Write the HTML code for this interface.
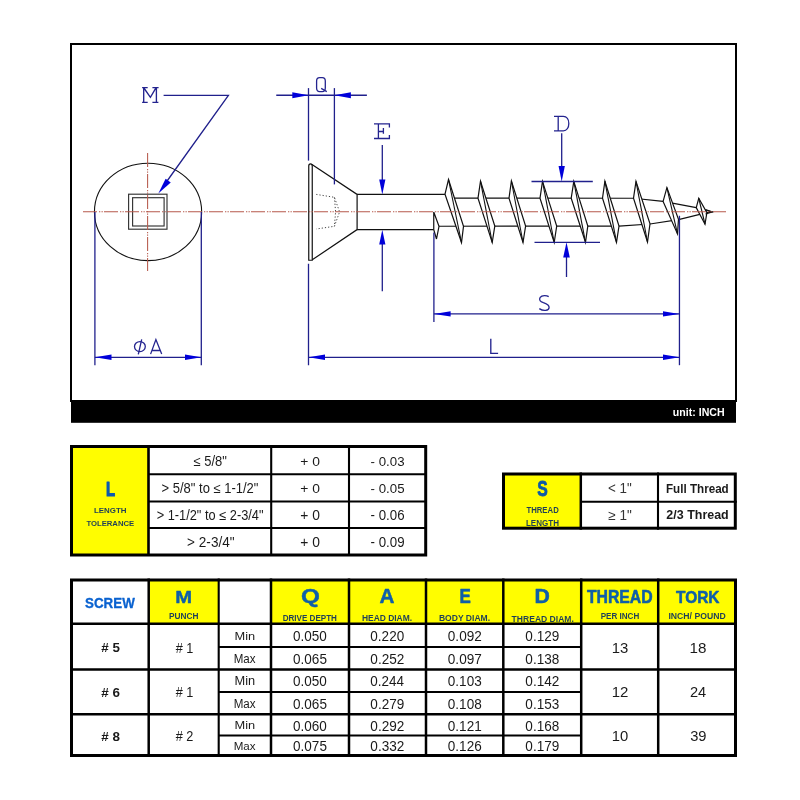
<!DOCTYPE html><html><head><meta charset="utf-8"><style>html,body{margin:0;padding:0;background:#fff;}svg{display:block}</style></head><body>
<svg width="800" height="800" viewBox="0 0 800 800" style="will-change:transform">
<rect width="800" height="800" fill="#fff"/>
<rect x="71" y="44" width="665" height="357" fill="none" stroke="#000" stroke-width="2"/>
<rect x="71" y="400.5" width="665" height="22.3" fill="#000"/>
<text transform="translate(672.84,416.20) scale(0.9602,1)" font-family="Liberation Sans" font-weight="bold" font-size="11.05" fill="#fff">unit: INCH</text>
<ellipse cx="148.05" cy="211.9" rx="53.6" ry="48.7" fill="none" stroke="#111" stroke-width="1.1"/>
<rect x="128.6" y="194.2" width="38.4" height="35" fill="none" stroke="#333" stroke-width="1.15"/>
<rect x="132.6" y="197.7" width="31.5" height="28.3" fill="none" stroke="#333" stroke-width="1.15"/>
<path d="M308.75,260.25 V166 C308.75,163.2 312.25,163.2 312.25,166 V260.25 Z" fill="none" stroke="#111" stroke-width="1.2"/>
<polyline points="311.6,164.3 357.1,194.4 357.1,229.6 312.25,259.8" fill="none" stroke="#111" stroke-width="1.2"/>
<polyline points="316.25,194.4 334.4,197.3 339.6,211.9 334.4,226.3 316.25,229" fill="none" stroke="#444" stroke-width="1" stroke-dasharray="1.2 2"/>
<polyline points="334.4,197.3 335.6,211.9 334.4,226.3" fill="none" stroke="#444" stroke-width="1" stroke-dasharray="1.2 2"/>
<line x1="357.1" y1="194.4" x2="445" y2="194.4" stroke="#111" stroke-width="1.2" />
<line x1="357.1" y1="229.6" x2="433.75" y2="229.6" stroke="#111" stroke-width="1.2" />
<polyline points="446,198.2 633.5,198.25 663.1,201.4 696.25,207.6 712.5,212" fill="none" stroke="#111" stroke-width="1.2"/>
<polyline points="439,226.25 619,226.1 650,224 678.5,219.6 706.9,212.6 712.5,212" fill="none" stroke="#111" stroke-width="1.2"/>
<polygon points="433.75,212 439,226.25 436.5,239 433.75,229.6" fill="#fff" stroke="#111" stroke-width="1.2" stroke-linejoin="miter"/>
<polygon points="448.5,179.5 463.5,226.3 461.5,242.5 445,194.2" fill="#fff" stroke="#111" stroke-width="1.2" stroke-linejoin="miter" stroke-miterlimit="10"/>
<line x1="448.5" y1="179.5" x2="461.5" y2="242.5" stroke="#111" stroke-width="1.1"/>
<polygon points="480.5,181.2 494.8,226 492.2,242.5 478,198.2" fill="#fff" stroke="#111" stroke-width="1.2" stroke-linejoin="miter" stroke-miterlimit="10"/>
<line x1="480.5" y1="181.2" x2="492.2" y2="242.5" stroke="#111" stroke-width="1.1"/>
<polygon points="511.4,181.0 525.6,226 523,242.5 509,198.2" fill="#fff" stroke="#111" stroke-width="1.2" stroke-linejoin="miter" stroke-miterlimit="10"/>
<line x1="511.4" y1="181.0" x2="523" y2="242.5" stroke="#111" stroke-width="1.1"/>
<polygon points="542.5,181.4 556.7,226 554.2,242.5 540,198.2" fill="#fff" stroke="#111" stroke-width="1.2" stroke-linejoin="miter" stroke-miterlimit="10"/>
<line x1="542.5" y1="181.4" x2="554.2" y2="242.5" stroke="#111" stroke-width="1.1"/>
<polygon points="573.8,181.4 587.8,226 585.5,242.3 571.2,198.2" fill="#fff" stroke="#111" stroke-width="1.2" stroke-linejoin="miter" stroke-miterlimit="10"/>
<line x1="573.8" y1="181.4" x2="585.5" y2="242.3" stroke="#111" stroke-width="1.1"/>
<polygon points="604.9,181.2 619,226 616.5,242.4 602.5,198.2" fill="#fff" stroke="#111" stroke-width="1.2" stroke-linejoin="miter" stroke-miterlimit="10"/>
<line x1="604.9" y1="181.2" x2="616.5" y2="242.4" stroke="#111" stroke-width="1.1"/>
<polygon points="636,181.4 650,223.9 647.5,242 633.5,198.25" fill="#fff" stroke="#111" stroke-width="1.2" stroke-linejoin="miter" stroke-miterlimit="10"/>
<line x1="636" y1="181.4" x2="647.5" y2="242" stroke="#111" stroke-width="1.1"/>
<polygon points="666.9,187.6 678.5,219.25 677.5,233.9 663.1,201.4" fill="#fff" stroke="#111" stroke-width="1.2" stroke-linejoin="miter" stroke-miterlimit="10"/>
<line x1="666.9" y1="187.6" x2="677.5" y2="233.9" stroke="#111" stroke-width="1.1"/>
<polygon points="698.75,198.25 706.9,212.6 705,224.25 696.25,207.6" fill="#fff" stroke="#111" stroke-width="1.2" stroke-linejoin="miter" stroke-miterlimit="10"/>
<line x1="698.75" y1="198.25" x2="705" y2="224.25" stroke="#111" stroke-width="1.1"/>
<polyline points="705.5,209.5 712.5,212 705.5,214" fill="none" stroke="#111" stroke-width="1.1"/>
<line x1="83" y1="211.8" x2="726" y2="211.8" stroke="#b65a4c" stroke-width="1.05" stroke-dasharray="14 2 1.3 1.2 1.3 1.2"/>
<line x1="147.6" y1="153" x2="147.6" y2="271" stroke="#b65a4c" stroke-width="1.05" stroke-dasharray="14 2 1.3 1.2 1.3 1.2"/>
<polyline points="163.6,95.3 228.4,95.3 163.5,186" fill="none" stroke="#20208c" stroke-width="1.3"/>
<polygon points="158.30,193.60 165.65,178.66 170.75,182.54" fill="#0000da"/>
<path d="M142.1,87.6 H147.7 M152.4,87.6 H158.6 M143.7,87.6 V102.3 M156.4,87.6 V102.3 M142.1,102.3 H147.7 M152.4,102.3 H158.4 M143.9,88 L150.4,97.3 L155.8,88.2" fill="none" stroke="#24248f" stroke-width="1.35"/>
<line x1="276.25" y1="95.25" x2="366.9" y2="95.25" stroke="#20208c" stroke-width="1.3" />
<line x1="308.5" y1="88.1" x2="308.5" y2="160.6" stroke="#20208c" stroke-width="1.3" />
<line x1="334.4" y1="88.1" x2="334.4" y2="184.4" stroke="#20208c" stroke-width="1.3" />
<polygon points="308.50,95.25 292.30,98.15 292.30,92.35" fill="#0000da"/>
<polygon points="334.40,95.25 350.90,92.35 350.90,98.15" fill="#0000da"/>
<rect x="316.6" y="77.6" width="8.7" height="14" rx="3" ry="3.5" fill="none" stroke="#24248f" stroke-width="1.3"/>
<path d="M321.2,88.4 L326.8,91.6" stroke="#24248f" stroke-width="1.3"/>
<line x1="382.3" y1="145" x2="382.3" y2="180" stroke="#20208c" stroke-width="1.3" />
<polygon points="382.30,194.40 379.20,179.40 385.40,179.40" fill="#0000da"/>
<line x1="382.3" y1="244" x2="382.3" y2="291.25" stroke="#20208c" stroke-width="1.3" />
<polygon points="382.30,229.80 385.40,244.60 379.20,244.60" fill="#0000da"/>
<path d="M374,123.9 H389.4 V127.6 M378.4,123.9 V138.5 M374,138.5 H389.4 V135.1 M378.4,131.5 H383.4 M383.4,128.1 V133.7" fill="none" stroke="#24248f" stroke-width="1.3"/>
<line x1="561.7" y1="133.3" x2="561.7" y2="167" stroke="#20208c" stroke-width="1.3" />
<polygon points="561.70,181.50 558.55,166.00 564.85,166.00" fill="#0000da"/>
<line x1="531.5" y1="181.5" x2="592.8" y2="181.5" stroke="#20208c" stroke-width="1.3" />
<line x1="534.5" y1="242.3" x2="600" y2="242.3" stroke="#20208c" stroke-width="1.3" />
<line x1="566.5" y1="257" x2="566.5" y2="277" stroke="#20208c" stroke-width="1.3" />
<polygon points="566.50,242.30 569.80,257.50 563.20,257.50" fill="#0000da"/>
<path d="M554,116.4 H563.3 C566.8,116.4 568.8,119.5 568.8,123.6 C568.8,127.7 566.8,130.8 563.3,130.8 H554 M558.2,116.4 V130.8" fill="none" stroke="#24248f" stroke-width="1.3"/>
<line x1="433.9" y1="232.5" x2="433.9" y2="321.9" stroke="#20208c" stroke-width="1.3" />
<line x1="679.45" y1="215.75" x2="679.45" y2="365.2" stroke="#20208c" stroke-width="1.3" />
<line x1="433.9" y1="313.9" x2="679.45" y2="313.9" stroke="#20208c" stroke-width="1.3" />
<polygon points="433.90,313.90 450.60,311.20 450.60,316.60" fill="#0000da"/>
<polygon points="679.45,313.90 663.00,316.60 663.00,311.20" fill="#0000da"/>
<path d="M548.7,296.6 C546.8,295.3 542,294.8 540.2,297.4 C538.6,300 540.3,301.4 543.4,302.7 C547.4,304.2 549.4,305.2 549.1,307.6 C548.8,310.6 543.6,311.6 539.3,308.6" fill="none" stroke="#24248f" stroke-width="1.3"/>
<line x1="308.5" y1="263.75" x2="308.5" y2="365.25" stroke="#20208c" stroke-width="1.3" />
<line x1="308.5" y1="357.3" x2="679.45" y2="357.3" stroke="#20208c" stroke-width="1.3" />
<polygon points="308.50,357.30 325.00,354.60 325.00,360.00" fill="#0000da"/>
<polygon points="679.45,357.30 663.00,360.00 663.00,354.60" fill="#0000da"/>
<path d="M490.8,338.8 V353.4 H498.1" fill="none" stroke="#24248f" stroke-width="1.35"/>
<line x1="94.9" y1="212" x2="94.9" y2="365.2" stroke="#20208c" stroke-width="1.3" />
<line x1="201.3" y1="212" x2="201.3" y2="365.2" stroke="#20208c" stroke-width="1.3" />
<line x1="94.9" y1="357.3" x2="201.3" y2="357.3" stroke="#20208c" stroke-width="1.3" />
<polygon points="94.90,357.30 111.50,354.60 111.50,360.00" fill="#0000da"/>
<polygon points="201.30,357.30 185.00,360.00 185.00,354.60" fill="#0000da"/>
<ellipse cx="139.9" cy="346.6" rx="5.4" ry="5" fill="none" stroke="#24248f" stroke-width="1.3"/>
<line x1="141.7" y1="339.3" x2="138.3" y2="354.4" stroke="#24248f" stroke-width="1.3" />
<path d="M150.6,354.1 L155.9,339.6 L161.7,354.1 M152.2,350.5 H160.1" fill="none" stroke="#24248f" stroke-width="1.3"/>
<rect x="71.5" y="446.5" width="77" height="108.5" fill="#fffd00"/>
<rect x="71.5" y="446.5" width="354.2" height="108.5" fill="none" stroke="#000" stroke-width="3"/>
<line x1="148.5" y1="445" x2="148.5" y2="556" stroke="#000" stroke-width="2.6" />
<line x1="271.2" y1="445" x2="271.2" y2="556" stroke="#000" stroke-width="2.1" />
<line x1="349" y1="445" x2="349" y2="556" stroke="#000" stroke-width="2.1" />
<line x1="148.5" y1="474.25" x2="427" y2="474.25" stroke="#000" stroke-width="2.1" />
<line x1="148.5" y1="501.5" x2="427" y2="501.5" stroke="#000" stroke-width="2.1" />
<line x1="148.5" y1="528" x2="427" y2="528" stroke="#000" stroke-width="2.1" />
<text transform="translate(105.95,495.55) scale(0.7231,1)" font-family="Liberation Sans" font-weight="bold" font-size="20.51" fill="#0c5ab0" stroke="#0c5ab0" stroke-width="1.24" stroke-linejoin="round">L</text>
<text transform="translate(93.97,512.63) scale(1.0775,1)" font-family="Liberation Sans" font-weight="bold" font-size="7.35" fill="#1f3f58">LENGTH</text>
<text transform="translate(86.42,525.92) scale(1.0111,1)" font-family="Liberation Sans" font-weight="bold" font-size="7.63" fill="#1f3f58">TOLERANCE</text>
<text transform="translate(193.51,466.16) scale(0.9445,1)" font-family="Liberation Sans" font-weight="normal" font-size="13.76" fill="#1a1a1a">≤ 5/8&quot;</text>
<text transform="translate(300.34,466.16) scale(1.0232,1)" font-family="Liberation Sans" font-weight="normal" font-size="13.57" fill="#1a1a1a">+ 0</text>
<text transform="translate(370.60,466.16) scale(0.9797,1)" font-family="Liberation Sans" font-weight="normal" font-size="13.57" fill="#1a1a1a">- 0.03</text>
<text transform="translate(161.55,493.06) scale(0.9451,1)" font-family="Liberation Sans" font-weight="normal" font-size="13.76" fill="#1a1a1a">&gt; 5/8&quot; to ≤ 1-1/2&quot;</text>
<text transform="translate(300.34,493.06) scale(1.0232,1)" font-family="Liberation Sans" font-weight="normal" font-size="13.57" fill="#1a1a1a">+ 0</text>
<text transform="translate(370.60,493.06) scale(0.9787,1)" font-family="Liberation Sans" font-weight="normal" font-size="13.57" fill="#1a1a1a">- 0.05</text>
<text transform="translate(156.66,520.16) scale(0.9207,1)" font-family="Liberation Sans" font-weight="normal" font-size="13.91" fill="#1a1a1a">&gt; 1-1/2&quot; to ≤ 2-3/4&quot;</text>
<text transform="translate(300.34,520.16) scale(1.0126,1)" font-family="Liberation Sans" font-weight="normal" font-size="13.71" fill="#1a1a1a">+ 0</text>
<text transform="translate(370.60,520.16) scale(0.9696,1)" font-family="Liberation Sans" font-weight="normal" font-size="13.71" fill="#1a1a1a">- 0.06</text>
<text transform="translate(187.12,547.26) scale(0.9471,1)" font-family="Liberation Sans" font-weight="normal" font-size="14.34" fill="#1a1a1a">&gt; 2-3/4&quot;</text>
<text transform="translate(300.34,547.26) scale(0.9823,1)" font-family="Liberation Sans" font-weight="normal" font-size="14.13" fill="#1a1a1a">+ 0</text>
<text transform="translate(370.60,547.26) scale(0.9414,1)" font-family="Liberation Sans" font-weight="normal" font-size="14.13" fill="#1a1a1a">- 0.09</text>
<rect x="503.5" y="474" width="77" height="54" fill="#fffd00"/>
<rect x="503.5" y="474" width="231.8" height="54.2" fill="none" stroke="#000" stroke-width="3"/>
<line x1="580.8" y1="472.5" x2="580.8" y2="529.7" stroke="#000" stroke-width="2.5" />
<line x1="658" y1="472.5" x2="658" y2="529.7" stroke="#000" stroke-width="2.1" />
<line x1="580.8" y1="501.8" x2="736.8" y2="501.8" stroke="#000" stroke-width="2.1" />
<text transform="translate(537.33,495.89) scale(0.7420,1)" font-family="Liberation Sans" font-weight="bold" font-size="21.20" fill="#0c5aa8" stroke="#0c5aa8" stroke-width="0.81" stroke-linejoin="round">S</text>
<text transform="translate(526.42,513.10) scale(0.8764,1)" font-family="Liberation Sans" font-weight="bold" font-size="8.87" fill="#1f3f58">THREAD</text>
<text transform="translate(525.96,526.11) scale(0.9181,1)" font-family="Liberation Sans" font-weight="bold" font-size="8.76" fill="#1f3f58">LENGTH</text>
<text transform="translate(608.08,493.00) scale(0.9692,1)" font-family="Liberation Sans" font-weight="normal" font-size="13.82" fill="#333">&lt; 1&quot;</text>
<text transform="translate(608.31,520.00) scale(0.9794,1)" font-family="Liberation Sans" font-weight="normal" font-size="13.82" fill="#333">≥ 1&quot;</text>
<text transform="translate(666.01,492.60) scale(0.9532,1)" font-family="Liberation Sans" font-weight="bold" font-size="12.22" fill="#1a1a1a">Full Thread</text>
<text transform="translate(666.36,518.70) scale(1.0340,1)" font-family="Liberation Sans" font-weight="bold" font-size="12.07" fill="#1a1a1a">2/3 Thread</text>
<rect x="148.7" y="580" width="70" height="43.7" fill="#fffd00"/>
<rect x="271" y="580" width="387.2" height="43.7" fill="#fffd00"/>
<rect x="658.2" y="580" width="77.3" height="43.7" fill="#fffd00"/>
<rect x="71.5" y="580" width="664" height="175.5" fill="none" stroke="#000" stroke-width="3"/>
<line x1="148.7" y1="578.5" x2="148.7" y2="757" stroke="#000" stroke-width="2.5" />
<line x1="218.7" y1="578.5" x2="218.7" y2="757" stroke="#000" stroke-width="2.1" />
<line x1="271" y1="578.5" x2="271" y2="757" stroke="#000" stroke-width="2.5" />
<line x1="349" y1="578.5" x2="349" y2="757" stroke="#000" stroke-width="2.5" />
<line x1="426" y1="578.5" x2="426" y2="757" stroke="#000" stroke-width="2.5" />
<line x1="503.3" y1="578.5" x2="503.3" y2="757" stroke="#000" stroke-width="2.5" />
<line x1="581.2" y1="578.5" x2="581.2" y2="757" stroke="#000" stroke-width="2.5" />
<line x1="658.2" y1="578.5" x2="658.2" y2="757" stroke="#000" stroke-width="2.5" />
<line x1="70" y1="623.8" x2="737" y2="623.8" stroke="#000" stroke-width="2.6" />
<line x1="70" y1="669.5" x2="737" y2="669.5" stroke="#000" stroke-width="2.6" />
<line x1="70" y1="714.2" x2="737" y2="714.2" stroke="#000" stroke-width="2.6" />
<line x1="218.7" y1="647" x2="581.2" y2="647" stroke="#000" stroke-width="2.1" />
<line x1="218.7" y1="692" x2="581.2" y2="692" stroke="#000" stroke-width="2.1" />
<line x1="218.7" y1="735.5" x2="581.2" y2="735.5" stroke="#000" stroke-width="2.1" />
<text transform="translate(85.05,608.31) scale(0.9359,1)" font-family="Liberation Sans" font-weight="bold" font-size="14.28" fill="#0a62d0" stroke="#0a62d0" stroke-width="0.32" stroke-linejoin="round">SCREW</text>
<text transform="translate(175.29,602.75) scale(1.2042,1)" font-family="Liberation Sans" font-weight="bold" font-size="16.73" fill="#0f5fa8" stroke="#0f5fa8" stroke-width="0.42" stroke-linejoin="round">M</text>
<text transform="translate(169.04,618.71) scale(0.9476,1)" font-family="Liberation Sans" font-weight="bold" font-size="8.76" fill="#1f3f58">PUNCH</text>
<text transform="translate(301.08,603.15) scale(1.1947,1)" font-family="Liberation Sans" font-weight="bold" font-size="20.35" fill="#0f5fa8" stroke="#0f5fa8" stroke-width="0.42" stroke-linejoin="round">Q</text>
<text transform="translate(282.65,621.40) scale(0.8830,1)" font-family="Liberation Sans" font-weight="bold" font-size="9.16" fill="#1f3f58">DRIVE DEPTH</text>
<text transform="translate(379.53,603.35) scale(1.0644,1)" font-family="Liberation Sans" font-weight="bold" font-size="19.49" fill="#0f5fa8" stroke="#0f5fa8" stroke-width="0.47" stroke-linejoin="round">A</text>
<text transform="translate(361.93,621.40) scale(0.9222,1)" font-family="Liberation Sans" font-weight="bold" font-size="9.16" fill="#1f3f58">HEAD DIAM.</text>
<text transform="translate(459.40,603.35) scale(0.8451,1)" font-family="Liberation Sans" font-weight="bold" font-size="20.07" fill="#0f5fa8" stroke="#0f5fa8" stroke-width="0.59" stroke-linejoin="round">E</text>
<text transform="translate(438.92,621.41) scale(0.9452,1)" font-family="Liberation Sans" font-weight="bold" font-size="9.05" fill="#1f3f58">BODY DIAM.</text>
<text transform="translate(534.52,603.35) scale(1.0574,1)" font-family="Liberation Sans" font-weight="bold" font-size="20.07" fill="#0f5fa8" stroke="#0f5fa8" stroke-width="0.47" stroke-linejoin="round">D</text>
<text transform="translate(511.61,621.50) scale(0.9191,1)" font-family="Liberation Sans" font-weight="bold" font-size="9.31" fill="#1f3f58">THREAD DIAM.</text>
<text transform="translate(586.89,602.95) scale(0.9050,1)" font-family="Liberation Sans" font-weight="bold" font-size="17.45" fill="#0f5fa8" stroke="#0f5fa8" stroke-width="0.55" stroke-linejoin="round">THREAD</text>
<text transform="translate(600.65,618.91) scale(0.8677,1)" font-family="Liberation Sans" font-weight="bold" font-size="9.33" fill="#1f3f58">PER INCH</text>
<text transform="translate(676.00,602.78) scale(0.9113,1)" font-family="Liberation Sans" font-weight="bold" font-size="16.96" fill="#0f5fa8" stroke="#0f5fa8" stroke-width="0.55" stroke-linejoin="round">TORK</text>
<text transform="translate(668.41,618.82) scale(0.9791,1)" font-family="Liberation Sans" font-weight="bold" font-size="8.86" fill="#1f3f58">INCH/ POUND</text>
<text transform="translate(101.27,652.36) scale(0.9826,1)" font-family="Liberation Sans" font-weight="bold" font-size="13.62" fill="#1a1a1a"># 5</text>
<text transform="translate(175.69,652.50) scale(0.9198,1)" font-family="Liberation Sans" font-weight="normal" font-size="13.82" fill="#1a1a1a"># 1</text>
<text transform="translate(234.54,640.00) scale(1.1028,1)" font-family="Liberation Sans" font-weight="normal" font-size="11.64" fill="#1a1a1a">Min</text>
<text transform="translate(293.06,640.86) scale(0.9569,1)" font-family="Liberation Sans" font-weight="normal" font-size="14.13" fill="#1a1a1a">0.050</text>
<text transform="translate(370.36,640.86) scale(0.9569,1)" font-family="Liberation Sans" font-weight="normal" font-size="14.13" fill="#1a1a1a">0.220</text>
<text transform="translate(447.81,640.86) scale(0.9619,1)" font-family="Liberation Sans" font-weight="normal" font-size="14.13" fill="#1a1a1a">0.092</text>
<text transform="translate(525.36,640.86) scale(0.9599,1)" font-family="Liberation Sans" font-weight="normal" font-size="14.13" fill="#1a1a1a">0.129</text>
<text transform="translate(233.64,663.00) scale(0.9372,1)" font-family="Liberation Sans" font-weight="normal" font-size="12.36" fill="#1a1a1a">Max</text>
<text transform="translate(293.06,663.86) scale(0.9579,1)" font-family="Liberation Sans" font-weight="normal" font-size="14.13" fill="#1a1a1a">0.065</text>
<text transform="translate(370.36,663.86) scale(0.9619,1)" font-family="Liberation Sans" font-weight="normal" font-size="14.13" fill="#1a1a1a">0.252</text>
<text transform="translate(447.81,663.86) scale(0.9619,1)" font-family="Liberation Sans" font-weight="normal" font-size="14.13" fill="#1a1a1a">0.097</text>
<text transform="translate(525.36,663.86) scale(0.9589,1)" font-family="Liberation Sans" font-weight="normal" font-size="14.13" fill="#1a1a1a">0.138</text>
<text transform="translate(611.68,652.65) scale(1.0243,1)" font-family="Liberation Sans" font-weight="normal" font-size="14.56" fill="#1a1a1a">13</text>
<text transform="translate(689.56,652.65) scale(1.0450,1)" font-family="Liberation Sans" font-weight="normal" font-size="14.56" fill="#1a1a1a">18</text>
<text transform="translate(101.26,696.86) scale(0.9881,1)" font-family="Liberation Sans" font-weight="bold" font-size="13.62" fill="#1a1a1a"># 6</text>
<text transform="translate(175.69,697.00) scale(0.9198,1)" font-family="Liberation Sans" font-weight="normal" font-size="13.82" fill="#1a1a1a"># 1</text>
<text transform="translate(234.54,685.00) scale(1.0141,1)" font-family="Liberation Sans" font-weight="normal" font-size="12.65" fill="#1a1a1a">Min</text>
<text transform="translate(293.06,685.86) scale(0.9569,1)" font-family="Liberation Sans" font-weight="normal" font-size="14.13" fill="#1a1a1a">0.050</text>
<text transform="translate(370.36,685.86) scale(0.9530,1)" font-family="Liberation Sans" font-weight="normal" font-size="14.13" fill="#1a1a1a">0.244</text>
<text transform="translate(447.81,685.86) scale(0.9589,1)" font-family="Liberation Sans" font-weight="normal" font-size="14.13" fill="#1a1a1a">0.103</text>
<text transform="translate(525.36,685.86) scale(0.9619,1)" font-family="Liberation Sans" font-weight="normal" font-size="14.13" fill="#1a1a1a">0.142</text>
<text transform="translate(233.64,707.50) scale(0.9157,1)" font-family="Liberation Sans" font-weight="normal" font-size="12.65" fill="#1a1a1a">Max</text>
<text transform="translate(293.06,708.86) scale(0.9579,1)" font-family="Liberation Sans" font-weight="normal" font-size="14.13" fill="#1a1a1a">0.065</text>
<text transform="translate(370.36,708.86) scale(0.9599,1)" font-family="Liberation Sans" font-weight="normal" font-size="14.13" fill="#1a1a1a">0.279</text>
<text transform="translate(447.81,708.86) scale(0.9589,1)" font-family="Liberation Sans" font-weight="normal" font-size="14.13" fill="#1a1a1a">0.108</text>
<text transform="translate(525.36,708.86) scale(0.9589,1)" font-family="Liberation Sans" font-weight="normal" font-size="14.13" fill="#1a1a1a">0.153</text>
<text transform="translate(611.67,697.15) scale(1.0321,1)" font-family="Liberation Sans" font-weight="normal" font-size="14.56" fill="#1a1a1a">12</text>
<text transform="translate(689.97,697.15) scale(1.0046,1)" font-family="Liberation Sans" font-weight="normal" font-size="14.56" fill="#1a1a1a">24</text>
<text transform="translate(101.27,740.66) scale(0.9844,1)" font-family="Liberation Sans" font-weight="bold" font-size="13.62" fill="#1a1a1a"># 8</text>
<text transform="translate(175.69,740.80) scale(0.9215,1)" font-family="Liberation Sans" font-weight="normal" font-size="13.82" fill="#1a1a1a"># 2</text>
<text transform="translate(234.54,729.30) scale(1.1028,1)" font-family="Liberation Sans" font-weight="normal" font-size="11.64" fill="#1a1a1a">Min</text>
<text transform="translate(293.06,730.86) scale(0.9569,1)" font-family="Liberation Sans" font-weight="normal" font-size="14.13" fill="#1a1a1a">0.060</text>
<text transform="translate(370.36,730.86) scale(0.9619,1)" font-family="Liberation Sans" font-weight="normal" font-size="14.13" fill="#1a1a1a">0.292</text>
<text transform="translate(447.81,730.86) scale(0.9609,1)" font-family="Liberation Sans" font-weight="normal" font-size="14.13" fill="#1a1a1a">0.121</text>
<text transform="translate(525.36,730.86) scale(0.9589,1)" font-family="Liberation Sans" font-weight="normal" font-size="14.13" fill="#1a1a1a">0.168</text>
<text transform="translate(233.64,750.00) scale(0.9958,1)" font-family="Liberation Sans" font-weight="normal" font-size="11.64" fill="#1a1a1a">Max</text>
<text transform="translate(293.06,751.46) scale(0.9579,1)" font-family="Liberation Sans" font-weight="normal" font-size="14.13" fill="#1a1a1a">0.075</text>
<text transform="translate(370.36,751.46) scale(0.9619,1)" font-family="Liberation Sans" font-weight="normal" font-size="14.13" fill="#1a1a1a">0.332</text>
<text transform="translate(447.81,751.46) scale(0.9589,1)" font-family="Liberation Sans" font-weight="normal" font-size="14.13" fill="#1a1a1a">0.126</text>
<text transform="translate(525.36,751.46) scale(0.9599,1)" font-family="Liberation Sans" font-weight="normal" font-size="14.13" fill="#1a1a1a">0.179</text>
<text transform="translate(611.69,740.95) scale(1.0191,1)" font-family="Liberation Sans" font-weight="normal" font-size="14.56" fill="#1a1a1a">10</text>
<text transform="translate(690.15,740.95) scale(1.0094,1)" font-family="Liberation Sans" font-weight="normal" font-size="14.56" fill="#1a1a1a">39</text>
</svg></body></html>
